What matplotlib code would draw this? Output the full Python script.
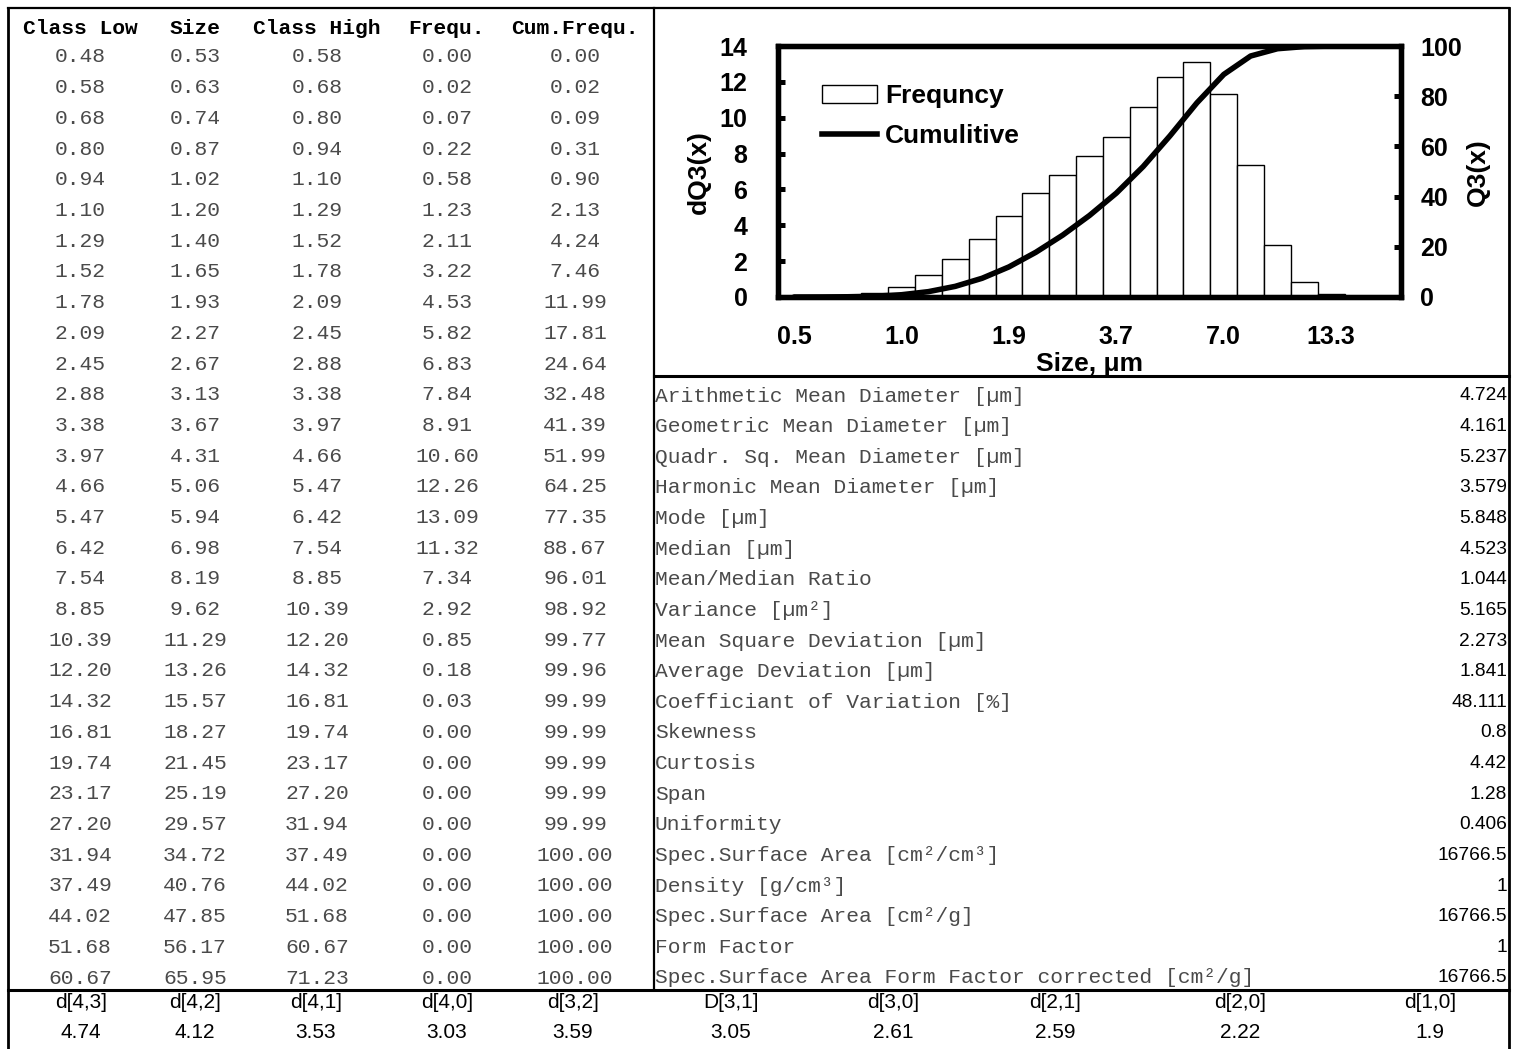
import matplotlib
matplotlib.use("Agg")
import matplotlib.pyplot as plt
from matplotlib.patches import Rectangle
from matplotlib.lines import Line2D

# ---------------- data ----------------
headers = ["Class Low", "Size", "Class High", "Frequ.", "Cum.Frequ."]
class_low = [0.48, 0.58, 0.68, 0.80, 0.94, 1.10, 1.29, 1.52, 1.78, 2.09, 2.45, 2.88, 3.38, 3.97,
             4.66, 5.47, 6.42, 7.54, 8.85, 10.39, 12.20, 14.32, 16.81, 19.74, 23.17, 27.20,
             31.94, 37.49, 44.02, 51.68, 60.67]
size = [0.53, 0.63, 0.74, 0.87, 1.02, 1.20, 1.40, 1.65, 1.93, 2.27, 2.67, 3.13, 3.67, 4.31,
        5.06, 5.94, 6.98, 8.19, 9.62, 11.29, 13.26, 15.57, 18.27, 21.45, 25.19, 29.57,
        34.72, 40.76, 47.85, 56.17, 65.95]
class_high = [0.58, 0.68, 0.80, 0.94, 1.10, 1.29, 1.52, 1.78, 2.09, 2.45, 2.88, 3.38, 3.97, 4.66,
              5.47, 6.42, 7.54, 8.85, 10.39, 12.20, 14.32, 16.81, 19.74, 23.17, 27.20, 31.94,
              37.49, 44.02, 51.68, 60.67, 71.23]
freq = [0.00, 0.02, 0.07, 0.22, 0.58, 1.23, 2.11, 3.22, 4.53, 5.82, 6.83, 7.84, 8.91, 10.60,
        12.26, 13.09, 11.32, 7.34, 2.92, 0.85, 0.18, 0.03, 0.00, 0.00, 0.00, 0.00,
        0.00, 0.00, 0.00, 0.00, 0.00]
cum = [0.00, 0.02, 0.09, 0.31, 0.90, 2.13, 4.24, 7.46, 11.99, 17.81, 24.64, 32.48, 41.39, 51.99,
       64.25, 77.35, 88.67, 96.01, 98.92, 99.77, 99.96, 99.99, 99.99, 99.99, 99.99, 99.99,
       100.00, 100.00, 100.00, 100.00, 100.00]

stat_labels = ["Arithmetic Mean Diameter [µm]", "Geometric Mean Diameter [µm]",
               "Quadr. Sq. Mean Diameter [µm]", "Harmonic Mean Diameter [µm]", "Mode [µm]",
               "Median [µm]", "Mean/Median Ratio", "Variance [µm²]",
               "Mean Square Deviation [µm]", "Average Deviation [µm]",
               "Coefficiant of Variation [%]", "Skewness", "Curtosis", "Span", "Uniformity",
               "Spec.Surface Area [cm²/cm³]", "Density [g/cm³]", "Spec.Surface Area [cm²/g]",
               "Form Factor", "Spec.Surface Area Form Factor corrected [cm²/g]"]
stat_values = ["4.724", "4.161", "5.237", "3.579", "5.848", "4.523", "1.044", "5.165", "2.273",
               "1.841", "48.111", "0.8", "4.42", "1.28", "0.406", "16766.5", "1", "16766.5",
               "1", "16766.5"]

mom_labels = ["d[4,3]", "d[4,2]", "d[4,1]", "d[4,0]", "d[3,2]", "D[3,1]", "d[3,0]", "d[2,1]",
              "d[2,0]", "d[1,0]"]
mom_values = ["4.74", "4.12", "3.53", "3.03", "3.59", "3.05", "2.61", "2.59", "2.22", "1.9"]

x_tick_idx = [0, 4, 8, 12, 16, 20]
x_tick_labels = ["0.5", "1.0", "1.9", "3.7", "7.0", "13.3"]

# ---------------- layout ----------------
W, H = 1513, 1049
fig = plt.figure(figsize=(W / 100, H / 100), dpi=100)
bg = fig.add_axes([0, 0, 1, 1])
bg.set_xlim(0, W)
bg.set_ylim(H, 0)
bg.axis("off")

mono = "Liberation Mono"
sans = "Liberation Sans"
tcol = "#4a4a4a"
mono_fs = 15.3

# borders
lw_thin = 1.6
bg.plot([8, 1509], [8, 8], color="black", lw=lw_thin)
bg.plot([8, 8], [8, H], color="black", lw=2.0)
bg.plot([1509, 1509], [8, H], color="black", lw=2.0)
bg.plot([654, 654], [8, 990], color="black", lw=lw_thin)
bg.plot([654, 1509], [376, 376], color="black", lw=2.2)
bg.plot([8, 1509], [990, 990], color="black", lw=2.2)

# left table
col_x = [80, 195, 317, 447, 575]
for cx, h in zip(col_x, headers):
    bg.text(cx, 28, h, family=mono, weight="bold", fontsize=mono_fs, ha="center", va="center",
            color="black")
cols = [class_low, size, class_high, freq, cum]
for i in range(len(class_low)):
    y = 57 + i * 30.7
    for cx, col in zip(col_x, cols):
        bg.text(cx, y, f"{col[i]:.2f}", family=mono, fontsize=mono_fs, ha="center", va="center",
                color=tcol)

# stats table
for i, (lab, val) in enumerate(zip(stat_labels, stat_values)):
    y = 396 + i * 30.63
    bg.text(655, y, lab, family=mono, fontsize=mono_fs, ha="left", va="center", color=tcol)
    bg.text(1507, y, val, family=sans, fontsize=13.8, ha="right", va="center", color="black")

# bottom moments table
mom_x = [81, 195, 316, 447, 573, 731, 893, 1055, 1240, 1430]
for cx, lab, val in zip(mom_x, mom_labels, mom_values):
    bg.text(cx, 1002, lab, family=sans, fontsize=15, ha="center", va="center", color="black")
    bg.text(cx, 1033, val, family=sans, fontsize=15, ha="center", va="center", color="black")

# ---------------- chart ----------------
ax_l, ax_r, ax_t, ax_b = 778, 1401, 46, 297
ax = fig.add_axes([ax_l / W, 1 - ax_b / H, (ax_r - ax_l) / W, (ax_b - ax_t) / H])
idx = list(range(len(freq)))
ax.bar(idx, freq, width=1.0, color="white", edgecolor="black", linewidth=1.0, zorder=2)
ax.set_xlim(-0.6, 22.6)
ax.set_ylim(0, 14)
ax.set_yticks(range(0, 15, 2))
ax.set_xticks(x_tick_idx)
ax.set_xticklabels(x_tick_labels)
tick_fs = 18
cfont = dict(family=sans, weight="bold", size=19)
for lab in ax.get_xticklabels() + ax.get_yticklabels():
    lab.set_fontproperties(sans)
    lab.set_fontweight("bold")
    lab.set_fontsize(tick_fs)
ax.tick_params(axis="x", length=0, pad=20)
ax.tick_params(axis="y", direction="in", length=5, width=3.6, pad=22)
for s in ax.spines.values():
    s.set_linewidth(3.8)
ax.set_ylabel("dQ3(x)", fontdict=cfont)
ax.yaxis.set_label_coords(-0.1075, 0.496)
ax.set_xlabel("Size, μm", fontdict=cfont, labelpad=2)

ax2 = ax.twinx()
ax2.plot(idx, cum, color="black", lw=4.0, solid_joinstyle="round", solid_capstyle="round",
         zorder=3)
ax2.set_ylim(0, 100)
ax2.set_yticks(range(0, 101, 20))
for lab in ax2.get_yticklabels():
    lab.set_fontproperties(sans)
    lab.set_fontweight("bold")
    lab.set_fontsize(tick_fs)
ax2.tick_params(axis="y", direction="in", length=5, width=3.6, pad=14)
for s in ax2.spines.values():
    s.set_linewidth(3.8)
ax2.set_ylabel("Q3(x)", fontdict=cfont)
ax2.yaxis.set_label_coords(1.104, 0.496)

handles = [Rectangle((0, 0), 1, 1, facecolor="white", edgecolor="black", linewidth=1.0),
           Line2D([], [], color="black", lw=4.0)]
leg = ax2.legend(handles, ["Frequncy", "Cumulitive"], loc="upper left",
                 bbox_to_anchor=(0.07, 0.847), frameon=False,
                 prop=dict(family=sans, weight="bold", size=19),
                 handlelength=2.1, handleheight=0.7, handletextpad=0.3, labelspacing=0.6,
                 borderaxespad=0, borderpad=0)

fig.savefig("out.png", dpi=100)
